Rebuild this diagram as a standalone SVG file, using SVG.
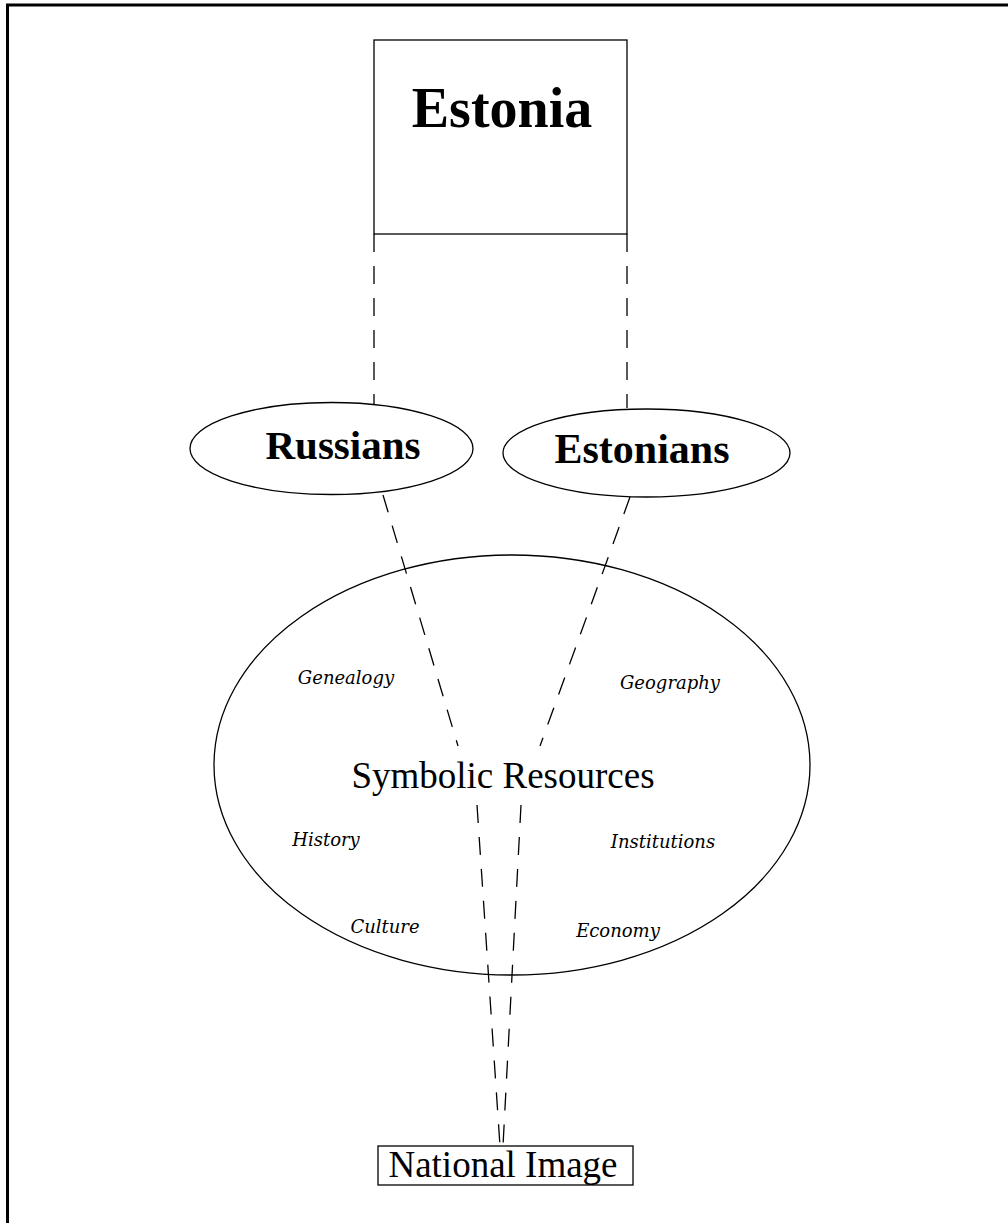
<svg xmlns="http://www.w3.org/2000/svg" width="1008" height="1223" viewBox="0 0 1008 1223">
<style>
.shape{fill:none;stroke:#000;stroke-width:1.3}
.dash{fill:none;stroke:#000;stroke-width:1.3;stroke-dasharray:18 14}
.frame{stroke:#000;stroke-width:3;fill:none}
.bold{font-family:"Liberation Serif","Times New Roman",serif;font-weight:bold;text-anchor:middle;fill:#000}
.reg{font-family:"Liberation Serif","Times New Roman",serif;text-anchor:middle;fill:#000}
.it{font-family:"DejaVu Serif",serif;font-style:italic;text-anchor:middle;fill:#000;font-size:18px}
</style>
<rect width="1008" height="1223" fill="#fff"/>
<path class="frame" d="M7.5,1223 V5 H1008"/>
<g id="connectors">
<line class="dash" x1="374" y1="234" x2="374" y2="404"/>
<line class="dash" x1="627" y1="234" x2="627" y2="408"/>
<polyline class="dash" points="383,495 458,746"/>
<polyline class="dash" points="630,497 540,746"/>
<polyline class="dash" points="477,805 500,1146"/>
<polyline class="dash" points="521,805 503,1146"/>
</g>
<g id="estonia">
<rect class="shape" x="374" y="40" width="253" height="194"/>
<text class="bold" x="502" y="127" font-size="56">Estonia</text>
</g>
<g id="russians">
<ellipse class="shape" cx="331.5" cy="448.5" rx="141.5" ry="46"/>
<text class="bold" x="343" y="459" font-size="41">Russians</text>
</g>
<g id="estonians">
<ellipse class="shape" cx="646.5" cy="453" rx="143.5" ry="44"/>
<text class="bold" x="642" y="463" font-size="42">Estonians</text>
</g>
<g id="symbolic-resources">
<ellipse class="shape" cx="512" cy="765" rx="298" ry="210"/>
<text class="reg" x="503" y="788" font-size="37">Symbolic Resources</text>
<text class="it" x="346" y="684">Genealogy</text>
<text class="it" x="670" y="689">Geography</text>
<text class="it" x="326" y="846">History</text>
<text class="it" x="663" y="848">Institutions</text>
<text class="it" x="385" y="933">Culture</text>
<text class="it" x="618" y="937">Economy</text>
</g>
<g id="national-image">
<rect class="shape" x="378" y="1146" width="255" height="39"/>
<text class="reg" x="503" y="1177" font-size="37">National Image</text>
</g>
</svg>
